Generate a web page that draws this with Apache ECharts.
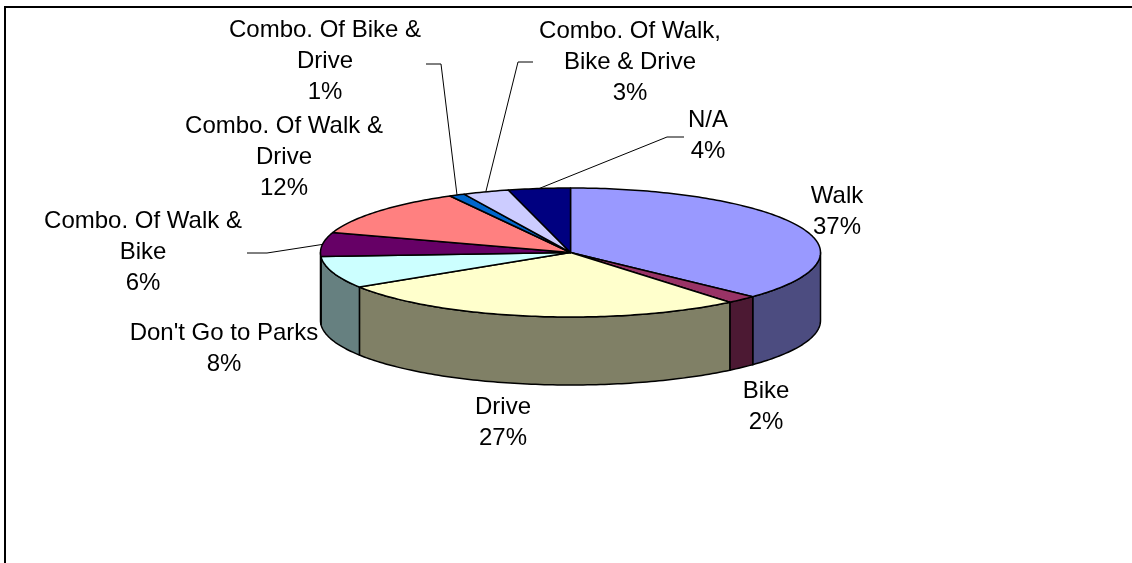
<!DOCTYPE html>
<html>
<head>
<meta charset="utf-8">
<script src="https://cdn.jsdelivr.net/npm/echarts@6/dist/echarts.min.js"></script>
<style>
  html, body { margin: 0; padding: 0; background: #fff; }
  #chart { width: 1132px; height: 563px; }
</style>
</head>
<body>
<div id="chart"></div>
<script>
// categories + percentages
const categories = ['Walk', 'Bike', 'Drive', "Don't Go to Parks", 'Combo. Of Walk & Bike',
  'Combo. Of Walk & Drive', 'Combo. Of Bike & Drive', 'Combo. Of Walk, Bike & Drive', 'N/A']
const labelNames = ['Walk', 'Bike', 'Drive', "Don't Go to Parks", 'Combo. Of Walk &\nBike',
  'Combo. Of Walk &\nDrive', 'Combo. Of Bike &\nDrive', 'Combo. Of Walk,\nBike & Drive', 'N/A']
const values = [37, 2, 27, 8, 6, 12, 1, 3, 4]

// slice colours (top face / side wall)
const topColors = ['#9999ff', '#993366', '#ffffcc', '#ccffff', '#660066', '#ff8080', '#0066cc', '#ccccff', '#000080']
const sideColors = ['#4c4c80', '#4c1933', '#808066', '#668080', '#330033', '#804040', '#003366', '#666680', '#000040']

// pie geometry (tilted 3D look)
const PIE = { cx: 570.5, cy: 252.5, rx: 250, ry: 64.5, depth: 68 }

// label placement: text centre + optional leader elbow
const labelPos = [[837, 212], [766, 407], [503, 423], [224, 349], [143, 252],
  [284, 157], [325, 61], [630, 62], [708, 136]]
const leaderElbows = [null, null, null, null, [[247, 253], [267, 253]],
  null, [[426, 64], [441, 64]], [[533, 62], [518, 62]], [[684, 137], [667, 137]]]

const total = values.reduce((a, b) => a + b, 0)
const starts = []
let acc = 0
values.forEach(v => { starts.push(acc); acc += v })

// point on ellipse, angle clockwise from 12 o'clock
const pt = (deg, dy) => {
  const r = deg * Math.PI / 180
  return [PIE.cx + PIE.rx * Math.sin(r), PIE.cy - PIE.ry * Math.cos(r) + (dy || 0)]
}
const arc = (a0, a1, dy) => {
  const n = Math.max(2, Math.ceil(Math.abs(a1 - a0)))
  const pts = []
  for (let k = 0; k <= n; k++) pts.push(pt(a0 + (a1 - a0) * k / n, dy))
  return pts
}

const chart = echarts.init(document.getElementById('chart'))

const option = {
  animation: false,
  graphic: [{
    type: 'rect',
    shape: { x: 5, y: 7, width: 1300, height: 800 },
    style: { fill: null, stroke: '#000', lineWidth: 2 },
    silent: true
  }],
  series: [
    {
      type: 'custom',
      name: 'pie3d',
      coordinateSystem: 'none',
      data: values.map((v, i) => ({ name: categories[i], value: [v] })),
      renderItem: (params, api) => {
        const i = params.dataIndex
        const v = api.value(0)
        const a0 = starts[i] / total * 360
        const a1 = a0 + v / total * 360
        const children = []
        // front side wall
        const s0 = Math.max(a0, 90)
        const s1 = Math.min(a1, 270)
        if (s1 > s0) {
          children.push({
            type: 'polygon',
            shape: { points: arc(s0, s1, 0).concat(arc(s1, s0, PIE.depth)) },
            style: { fill: sideColors[i], stroke: '#000', lineWidth: 1.5, lineJoin: 'round' }
          })
        }
        // top face
        children.push({
          type: 'polygon',
          shape: { points: [[PIE.cx, PIE.cy]].concat(arc(a0, a1, 0)) },
          style: { fill: topColors[i], stroke: '#000', lineWidth: 1.5, lineJoin: 'round' }
        })
        return { type: 'group', children }
      }
    },
    {
      type: 'custom',
      name: 'labels',
      coordinateSystem: 'none',
      data: values.map((v, i) => ({ name: categories[i], value: [v] })),
      renderItem: (params, api) => {
        const i = params.dataIndex
        const v = api.value(0)
        const mid = (starts[i] + v / 2) / total * 360
        const children = []
        if (leaderElbows[i]) {
          children.push({
            type: 'polyline',
            shape: { points: leaderElbows[i].concat([pt(mid, 0)]) },
            style: { stroke: '#000', lineWidth: 1, fill: null }
          })
        }
        children.push({
          type: 'text',
          x: labelPos[i][0],
          y: labelPos[i][1],
          style: {
            text: labelNames[i] + '\n' + Math.round(v / total * 100) + '%',
            fill: '#000',
            font: '24px "Liberation Sans", Arial, sans-serif',
            lineHeight: 31,
            align: 'center',
            verticalAlign: 'middle'
          }
        })
        return { type: 'group', children }
      }
    }
  ]
}

chart.setOption(option)
</script>
</body>
</html>
